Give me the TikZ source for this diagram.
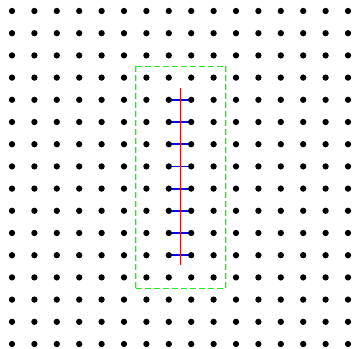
\documentclass[tikz,border=0pt]{standalone}
\pgfdeclarelayer{background}
\pgfsetlayers{background,main}
\begin{document}
\begin{tikzpicture}[x=1pt,y=-1pt,
  dot/.style={circle,fill=black,inner sep=0pt,minimum size=6.3pt},
  rung/.style={blue,line width=1.8pt},
  axisline/.style={red,line width=1.4pt},
  framecol/.style={color={rgb,255:red,40;green,230;blue,40}},
  frame/.style={framecol,line width=1.5pt,dash pattern=on 6pt off 3pt}]
\useasboundingbox (0,0) rectangle (355,348);
\foreach \i in {0,...,15}
  \foreach \j in {0,...,15}
    \node[dot] (d-\i-\j) at ({12+22.4*\i},{11+22.2*\j}) {};
\begin{pgfonlayer}{background}
\foreach \j in {4,...,11}
  \draw[rung] (d-7-\j.center) -- (d-8-\j.center);
\end{pgfonlayer}
\coordinate (rtop) at (180.5,88);
\coordinate (rbot) at (180.5,265);
\draw[axisline] (rtop) -- (rbot);
\coordinate (fa) at (135.5,66.5);
\coordinate (fb) at (225.5,288.5);
\draw[frame] (fa) -- (fa -| fb);
\draw[frame] (fb -| fa) -- (fb);
\foreach \k in {0,...,24}
  \fill[framecol] ({134.75},{65.75+9*\k}) rectangle ++(1.5,{min(6,288.5-65.75-9*\k)})
                  ({224.75},{65.75+9*\k}) rectangle ++(1.5,{min(6,288.5-65.75-9*\k)});
\end{tikzpicture}
\end{document}
